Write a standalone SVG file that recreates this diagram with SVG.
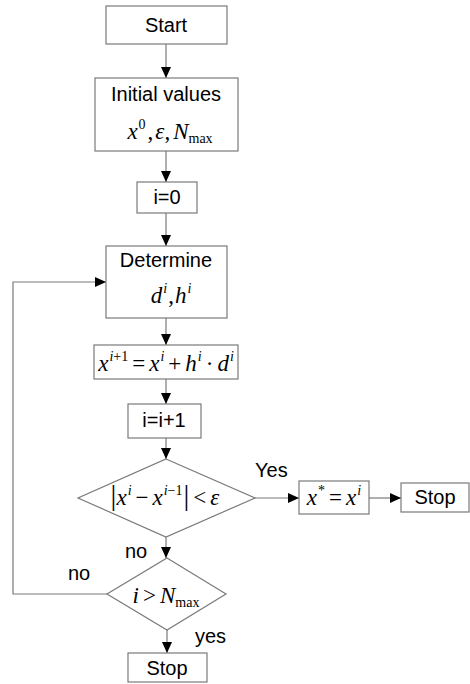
<svg xmlns="http://www.w3.org/2000/svg" width="470" height="684" viewBox="0 0 470 684">
<defs>
<marker id="ah" markerUnits="userSpaceOnUse" markerWidth="12" markerHeight="10" refX="11" refY="5" orient="auto">
<path d="M0,0 L11,5 L0,10 Z" fill="#000"/>
</marker>
<style>
.box{fill:#fff;stroke:#7a7a7a;stroke-width:1.2}
.ln{fill:none;stroke:#7a7a7a;stroke-width:1.2}
.t{font-family:"Liberation Sans",Arial,sans-serif;font-size:20px;fill:#000;text-anchor:middle}
.lb{font-family:"Liberation Sans",Arial,sans-serif;font-size:20px;fill:#000}
.m{font-family:"Liberation Serif","Times New Roman",serif;font-size:23px;fill:#000;text-anchor:middle}
.i{font-style:italic}
.s{font-size:14px}
.bar{font-size:29px}
</style>
</defs>
<rect width="470" height="684" fill="#fff"/>
<g id="connectors">
<line class="ln" x1="166" y1="44" x2="166" y2="78" marker-end="url(#ah)"/>
<line class="ln" x1="166" y1="151" x2="166" y2="182" marker-end="url(#ah)"/>
<line class="ln" x1="166" y1="213" x2="166" y2="246" marker-end="url(#ah)"/>
<line class="ln" x1="166" y1="318" x2="166" y2="345" marker-end="url(#ah)"/>
<line class="ln" x1="166" y1="379" x2="166" y2="404" marker-end="url(#ah)"/>
<line class="ln" x1="166" y1="438" x2="166" y2="459" marker-end="url(#ah)"/>
<line class="ln" x1="255" y1="498" x2="299" y2="498" marker-end="url(#ah)"/>
<line class="ln" x1="369" y1="498" x2="401" y2="498" marker-end="url(#ah)"/>
<line class="ln" x1="166" y1="537" x2="166" y2="558" marker-end="url(#ah)"/>
<polyline class="ln" points="107,594 13,594 13,282 106,282" marker-end="url(#ah)"/>
<line class="ln" x1="167" y1="630" x2="167" y2="653" marker-end="url(#ah)"/>
<text class="lb" x="255" y="477">Yes</text>
<text class="lb" x="125" y="558">no</text>
<text class="lb" x="68" y="580">no</text>
<text class="lb" x="195" y="643">yes</text>
</g>
<g id="start">
<rect class="box" x="106" y="6" width="121" height="38"/>
<text class="t" x="166" y="32">Start</text>
</g>
<g id="init">
<rect class="box" x="95" y="78" width="143" height="73"/>
<text class="t" x="166" y="101">Initial values</text>
<text class="m" x="170" y="139"><tspan class="i">x</tspan><tspan class="s" dx="1" dy="-10">0</tspan><tspan dy="10" dx="2">,</tspan><tspan class="i" dx="2">ε</tspan><tspan>,</tspan><tspan class="i" dx="3">N</tspan><tspan class="s" dy="4">max</tspan></text>
</g>
<g id="i0">
<rect class="box" x="137" y="182" width="60" height="31"/>
<text class="t" x="167" y="204">i=0</text>
</g>
<g id="determine">
<rect class="box" x="106" y="246" width="121" height="72"/>
<text class="t" x="166" y="267">Determine</text>
<text class="m" x="171" y="303"><tspan class="i">d</tspan><tspan class="s i" dx="1" dy="-10">i</tspan><tspan dy="10" dx="1">,</tspan><tspan class="i" dx="1">h</tspan><tspan class="s i" dx="1" dy="-10">i</tspan></text>
</g>
<g id="update">
<rect class="box" x="94" y="345" width="144" height="34"/>
<text class="m" x="166" y="371"><tspan class="i">x</tspan><tspan class="s" dx="1" dy="-10"><tspan class="i">i</tspan>+1</tspan><tspan dy="10" dx="4">=</tspan><tspan class="i" dx="4">x</tspan><tspan class="s i" dx="1" dy="-10">i</tspan><tspan dy="10" dx="4">+</tspan><tspan class="i" dx="4">h</tspan><tspan class="s i" dx="1" dy="-10">i</tspan><tspan dy="10" dx="4">·</tspan><tspan class="i" dx="4">d</tspan><tspan class="s i" dx="1" dy="-10">i</tspan></text>
</g>
<g id="inc">
<rect class="box" x="128" y="404" width="73" height="34"/>
<text class="t" x="164" y="427">i=i+1</text>
</g>
<g id="conv">
<polygon class="box" points="166,459 255,498 166,537 78,498"/>
<text class="m" x="165" y="505"><tspan class="bar">|</tspan><tspan class="i">x</tspan><tspan class="s i" dx="1" dy="-10">i</tspan><tspan dy="10" dx="4">−</tspan><tspan class="i" dx="4">x</tspan><tspan class="s" dx="1" dy="-10"><tspan class="i">i</tspan>−1</tspan><tspan class="bar" dy="10" dx="1">|</tspan><tspan dx="4">&lt;</tspan><tspan class="i" dx="4">ε</tspan></text>
</g>
<g id="xstar">
<rect class="box" x="299" y="481" width="70" height="33"/>
<text class="m" x="334" y="505"><tspan class="i">x</tspan><tspan class="s" dx="1" dy="-10">*</tspan><tspan dy="10" dx="4">=</tspan><tspan class="i" dx="4">x</tspan><tspan class="s i" dx="1" dy="-10">i</tspan></text>
</g>
<g id="stop1">
<rect class="box" x="401" y="483" width="68" height="29"/>
<text class="t" x="435" y="504">Stop</text>
</g>
<g id="maxit">
<polygon class="box" points="167,558 226,594 167,630 107,594"/>
<text class="m" x="166" y="603"><tspan class="i">i</tspan><tspan dx="4">&gt;</tspan><tspan class="i" dx="4">N</tspan><tspan class="s" dy="4">max</tspan></text>
</g>
<g id="stop2">
<rect class="box" x="128" y="653" width="79" height="29"/>
<text class="t" x="167" y="675">Stop</text>
</g>
</svg>
